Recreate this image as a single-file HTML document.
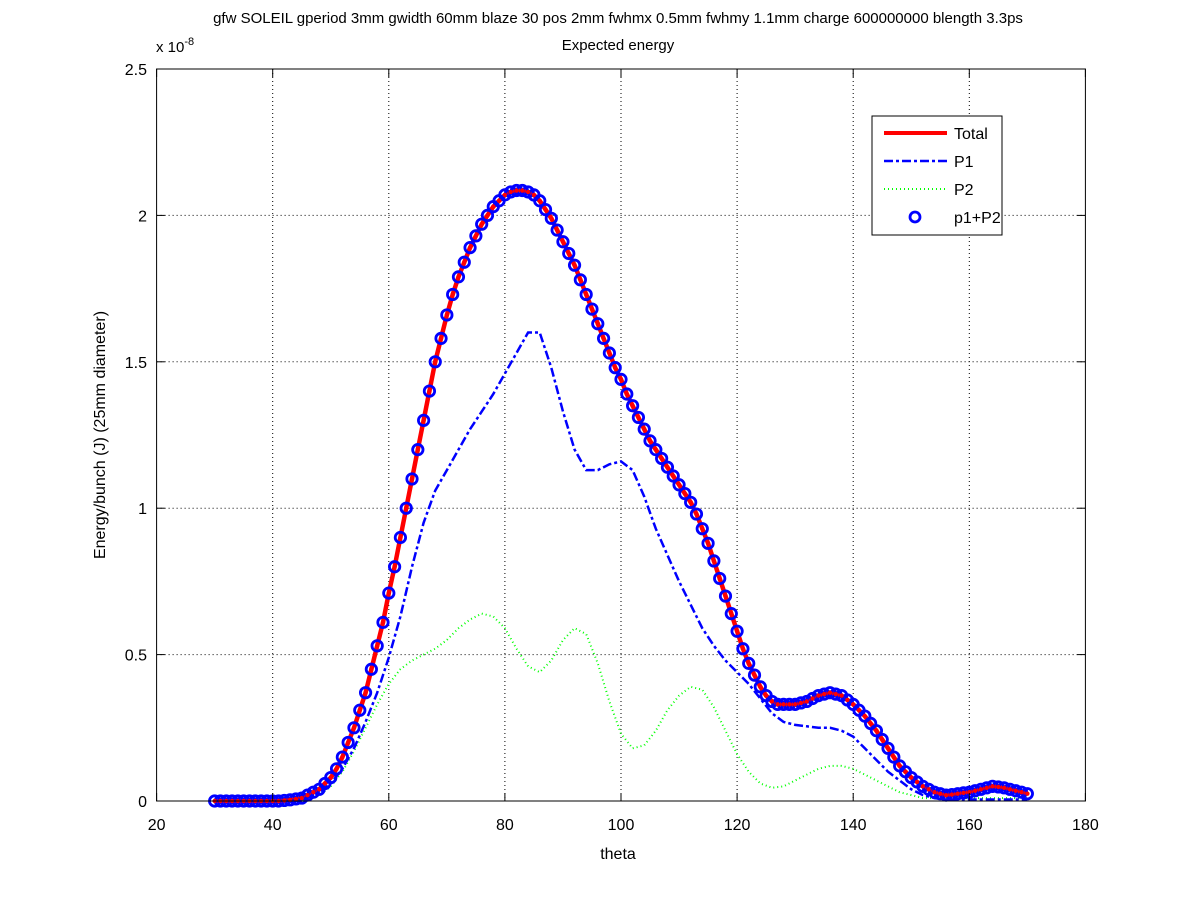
<!DOCTYPE html>
<html><head><meta charset="utf-8"><style>
body{margin:0;background:#fff}
svg text{font-family:"Liberation Sans",sans-serif;fill:#000}
</style></head><body>
<svg id="chart" width="1200" height="901" xmlns="http://www.w3.org/2000/svg">
<rect width="1200" height="901" fill="#fff"/>
<text x="618" y="23" font-size="15" text-anchor="middle">gfw SOLEIL gperiod 3mm gwidth 60mm blaze 30 pos 2mm fwhmx 0.5mm fwhmy 1.1mm charge 600000000 blength 3.3ps</text>
<text x="618" y="50" font-size="15" text-anchor="middle">Expected energy</text>
<g id="grid"></g>
<g id="series"></g>
<rect x="156.6" y="69" width="928.8" height="732" fill="none" stroke="#000" stroke-width="1"/>
<g id="ticks"></g>
<text x="156" y="52" font-size="15">x 10<tspan dy="-7" font-size="11">-8</tspan></text>
<text x="618" y="859" font-size="16" text-anchor="middle">theta</text>
<text transform="translate(105,435) rotate(-90)" font-size="16" text-anchor="middle">Energy/bunch (J) (25mm diameter)</text>
<g>
<rect x="872" y="116" width="130" height="119" fill="#fff" stroke="#000"/>
<line x1="884" y1="133" x2="947" y2="133" stroke="#f00" stroke-width="4"/>
<text x="954" y="139" font-size="16">Total</text>
<line x1="884" y1="161" x2="947" y2="161" stroke="#00f" stroke-width="2.5" stroke-dasharray="9,3,3,3"/>
<text x="954" y="167" font-size="16">P1</text>
<line x1="884" y1="189" x2="947" y2="189" stroke="#0f0" stroke-width="2" stroke-dasharray="1,3"/>
<text x="954" y="195" font-size="16">P2</text>
<circle cx="915" cy="217" r="5" fill="none" stroke="#00f" stroke-width="2.8"/>
<text x="954" y="223" font-size="16">p1+P2</text>
</g>
</svg>
<script>
const xTicks=[20,40,60,80,100,120,140,160,180];
const yTicks=[0,0.5,1,1.5,2,2.5];
const yTickLabels=["0","0.5","1","1.5","2","2.5"];
const totalTheta=[30,31,32,33,34,35,36,37,38,39,40,41,42,43,44,45,46,47,48,49,50,51,52,53,54,55,56,57,58,59,60,61,62,63,64,65,66,67,68,69,70,71,72,73,74,75,76,77,78,79,80,81,82,83,84,85,86,87,88,89,90,91,92,93,94,95,96,97,98,99,100,101,102,103,104,105,106,107,108,109,110,111,112,113,114,115,116,117,118,119,120,121,122,123,124,125,126,127,128,129,130,131,132,133,134,135,136,137,138,139,140,141,142,143,144,145,146,147,148,149,150,151,152,153,154,155,156,157,158,159,160,161,162,163,164,165,166,167,168,169,170];
const totalVals=[0,0,0,0,0,0,0,0,0,0,0,0,0.002,0.004,0.007,0.01,0.02,0.03,0.04,0.06,0.08,0.11,0.15,0.2,0.25,0.31,0.37,0.45,0.53,0.61,0.71,0.8,0.9,1.0,1.1,1.2,1.3,1.4,1.5,1.58,1.66,1.73,1.79,1.84,1.89,1.93,1.97,2.0,2.03,2.05,2.07,2.08,2.085,2.085,2.08,2.07,2.05,2.02,1.99,1.95,1.91,1.87,1.83,1.78,1.73,1.68,1.63,1.58,1.53,1.48,1.44,1.39,1.35,1.31,1.27,1.23,1.2,1.17,1.14,1.11,1.08,1.05,1.02,0.98,0.93,0.88,0.82,0.76,0.7,0.64,0.58,0.52,0.47,0.43,0.39,0.36,0.34,0.33,0.33,0.33,0.33,0.335,0.34,0.35,0.36,0.365,0.37,0.365,0.36,0.345,0.33,0.31,0.29,0.265,0.24,0.21,0.18,0.15,0.12,0.1,0.08,0.065,0.05,0.04,0.03,0.025,0.02,0.022,0.025,0.028,0.03,0.035,0.04,0.045,0.05,0.048,0.045,0.04,0.035,0.03,0.025];
const compTheta=[30,32,34,36,38,40,42,44,46,48,50,52,54,56,58,60,62,64,66,68,70,72,74,76,78,80,82,84,86,88,90,92,94,96,98,100,102,104,106,108,110,112,114,116,118,120,122,124,126,128,130,132,134,136,138,140,142,144,146,148,150,152,154,156,158,160,162,164,166,168,170];
const p1Vals=[0,0,0,0,0,0,0,0.003,0.01,0.03,0.06,0.11,0.18,0.27,0.37,0.49,0.63,0.8,0.95,1.06,1.13,1.2,1.27,1.33,1.39,1.46,1.53,1.6,1.6,1.48,1.33,1.2,1.13,1.13,1.15,1.16,1.13,1.04,0.93,0.84,0.75,0.67,0.59,0.53,0.48,0.44,0.4,0.35,0.3,0.27,0.26,0.255,0.25,0.25,0.24,0.22,0.18,0.14,0.1,0.07,0.04,0.02,0.01,0.005,0.005,0.005,0.005,0.005,0.005,0.005,0.005];
const p2Vals=[0,0,0,0,0,0,0,0,0.005,0.02,0.05,0.1,0.17,0.25,0.33,0.4,0.45,0.48,0.5,0.52,0.55,0.59,0.62,0.64,0.63,0.59,0.52,0.46,0.44,0.48,0.55,0.59,0.57,0.47,0.34,0.23,0.18,0.19,0.24,0.31,0.36,0.39,0.38,0.32,0.24,0.16,0.1,0.06,0.045,0.05,0.07,0.09,0.11,0.12,0.12,0.11,0.09,0.07,0.05,0.03,0.02,0.01,0.01,0.01,0.01,0.01,0.01,0.01,0.01,0.01,0.01];
const NS="http://www.w3.org/2000/svg";
const X=t=>156.6+(t-20)*928.8/160;
const Y=v=>801-v*292.8;
function mk(tag,parent,attrs){const e=document.createElementNS(NS,tag);for(const k in attrs)e.setAttribute(k,attrs[k]);parent.appendChild(e);return e;}
const grid=document.getElementById('grid'),ticks=document.getElementById('ticks'),ser=document.getElementById('series');
xTicks.forEach(t=>{
  if(t>20&&t<180){const g=mk('line',grid,{x1:X(t),x2:X(t),y1:69,y2:801,stroke:'#000','stroke-width':1,'stroke-dasharray':'1,3'});
  
  }
  const a=mk('line',ticks,{x1:X(t),x2:X(t),y1:801,y2:793,stroke:'#000'});
  
  
  const b=mk('line',ticks,{x1:X(t),x2:X(t),y1:69,y2:77,stroke:'#000'});
  
  
  const l=mk('text',ticks,{x:X(t),y:830,'font-size':16,'text-anchor':'middle'});l.textContent=t;
  
  
});
yTicks.forEach((v,i)=>{
  if(v>0&&v<2.5){const g=mk('line',grid,{x1:156.6,x2:1085.4,y1:Y(v),y2:Y(v),stroke:'#000','stroke-width':1,'stroke-dasharray':'1,3'});
  
  }
  const a=mk('line',ticks,{x1:156.6,x2:164.6,y1:Y(v),y2:Y(v),stroke:'#000'});
  
  
  const b=mk('line',ticks,{x1:1077.4,x2:1085.4,y1:Y(v),y2:Y(v),stroke:'#000'});
  
  
  const l=mk('text',ticks,{x:147,y:Y(v)+6,'font-size':16,'text-anchor':'end'});l.textContent=yTickLabels[i];
  
  
});
function pts(xs,ys){return xs.map((t,i)=>X(t).toFixed(1)+','+Y(ys[i]).toFixed(1)).join(' ');}
const tl=mk('polyline',ser,{points:pts(totalTheta,totalVals),fill:'none',stroke:'#f00','stroke-width':4.5,'stroke-linejoin':'round'});


const p2=mk('polyline',ser,{points:pts(compTheta,p2Vals),fill:'none',stroke:'#0f0','stroke-width':2,'stroke-dasharray':'1,3'});


const p1=mk('polyline',ser,{points:pts(compTheta,p1Vals),fill:'none',stroke:'#00f','stroke-width':2.5,'stroke-dasharray':'9,3,3,3'});


totalTheta.forEach((t,i)=>{
  const c=mk('circle',ser,{cx:X(t),cy:Y(totalVals[i]),r:5.2,fill:'none',stroke:'#00f','stroke-width':2.8});
  
  
});
totalTheta.forEach((t,i)=>{
  const c=mk('circle',ser,{cx:X(t),cy:Y(totalVals[i]),r:2.2,fill:'#f00'});
  
  
});
</script>
</body></html>
